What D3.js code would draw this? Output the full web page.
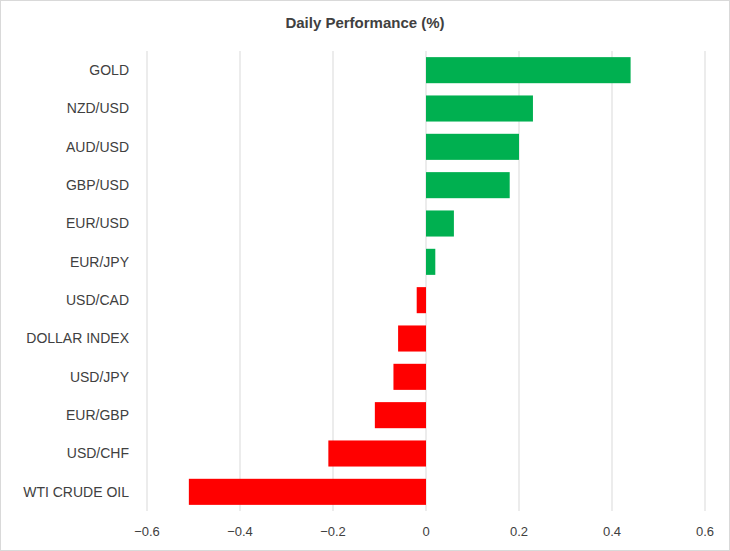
<!DOCTYPE html>
<html><head><meta charset="utf-8">
<script src="https://cdn.jsdelivr.net/npm/d3@7"></script>
<style>body{margin:0;background:#fff}</style>
</head><body><div id="chart"></div>
<script>
const categories = ['GOLD','NZD/USD','AUD/USD','GBP/USD','EUR/USD','EUR/JPY','USD/CAD','DOLLAR INDEX','USD/JPY','EUR/GBP','USD/CHF','WTI CRUDE OIL'];
const values = [0.44,0.23,0.20,0.18,0.06,0.02,-0.02,-0.06,-0.07,-0.11,-0.21,-0.51];
const ticks = [-0.6,-0.4,-0.2,0,0.2,0.4,0.6];

const width = 730, height = 551;
const svg = d3.select('#chart').append('svg').attr('width', width).attr('height', height);
svg.append('rect').attr('x', 0.5).attr('y', 0.5).attr('width', width - 1).attr('height', height - 1)
  .attr('fill', '#fff').attr('stroke', '#d9d9d9');

const x = d3.scaleLinear().domain([-0.6, 0.6]).range([147, 705]);
const y = d3.scaleBand().domain(categories).range([51, 511]).paddingInner(0.32).paddingOuter(0.16);
const font = 'Liberation Sans, Arial, sans-serif';

svg.append('text').attr('x', 365).attr('y', 28).attr('text-anchor', 'middle')
  .attr('font-family', font).attr('font-size', 15).attr('font-weight', 'bold').attr('fill', '#404040')
  .text('Daily Performance (%)');

svg.selectAll('line.grid').data(ticks).enter().append('line')
  .attr('x1', d => x(d)).attr('x2', d => x(d)).attr('y1', 51).attr('y2', 511)
  .attr('stroke', '#d9d9d9').attr('stroke-width', 1);

svg.selectAll('rect.bar').data(values).enter().append('rect')
  .attr('x', d => x(Math.min(0, d))).attr('width', d => Math.abs(x(d) - x(0)))
  .attr('y', (d, i) => y(categories[i])).attr('height', y.bandwidth())
  .attr('fill', d => d >= 0 ? '#00b050' : '#ff0000');

svg.selectAll('text.cat').data(categories).enter().append('text')
  .attr('x', 129).attr('y', d => y(d) + y.bandwidth() / 2).attr('dy', '0.35em')
  .attr('text-anchor', 'end').attr('font-family', font).attr('font-size', 14).attr('fill', '#404040')
  .text(d => d);

svg.selectAll('text.tick').data(ticks).enter().append('text')
  .attr('x', d => x(d)).attr('y', 536).attr('text-anchor', 'middle')
  .attr('font-family', font).attr('font-size', 13).attr('fill', '#404040')
  .text(d => d3.format('.1f')(d).replace('0.0', '0'));
</script></body></html>
